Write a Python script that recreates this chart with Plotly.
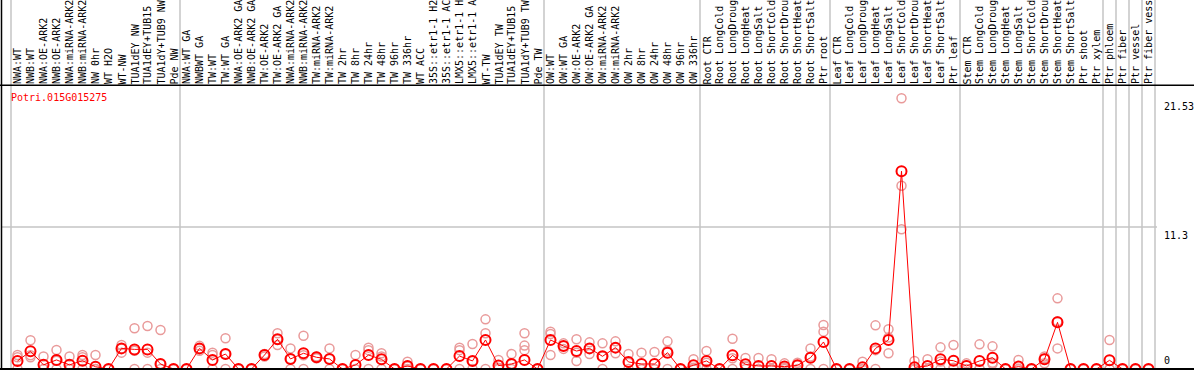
import plotly.graph_objects as go

gene = "Potri.015G015275"

groups = [
    ["NWA:WT", "NWB:WT", "NWA:OE-ARK2", "NWB:OE-ARK2", "NWA:miRNA-ARK2", "NWB:miRNA-ARK2",
     "NW 0hr", "WT H2O", "WT-NW", "TUA1dEY NW", "TUA1dEY+TUB15 NW", "TUA1dY+TUB9 NW", "Pde NW"],
    ["NWA:WT GA", "NWBWT GA", "TW:WT", "TW:WT GA", "NWA:OE-ARK2 GA", "NWB:OE-ARK2 GA",
     "TW:OE-ARK2", "TW:OE-ARK2 GA", "NWA:miRNA-ARK2", "NWB:miRNA-ARK2", "TW:miRNA-ARK2",
     "TW:miRNA-ARK2", "TW 2hr", "TW 8hr", "TW 24hr", "TW 48hr", "TW 96hr", "TW 336hr", "WT ACC",
     "35S::etr1-1 H2O", "35S::etr1-1 ACC", "LMX5::etr1-1 H2O", "LMX5::etr1-1 ACC", "WT-TW",
     "TUA1dEY TW", "TUA1dEY+TUB15 TW", "TUA1dY+TUB9 TW", "Pde TW"],
    ["OW:WT", "OW:WT GA", "OW:OE-ARK2", "OW:OE-ARK2 GA", "OW:miRNA-ARK2", "OW:miRNA-ARK2",
     "OW 2hr", "OW 8hr", "OW 24hr", "OW 48hr", "OW 96hr", "OW 336hr"],
    ["Root CTR", "Root LongCold", "Root LongDrought", "Root LongHeat", "Root LongSalt",
     "Root ShortCold", "Root ShortDrought", "Root ShortHeat", "Root ShortSalt", "Ptr root"],
    ["Leaf CTR", "Leaf LongCold", "Leaf LongDrought", "Leaf LongHeat", "Leaf LongSalt",
     "Leaf ShortCold", "Leaf ShortDrought", "Leaf ShortHeat", "Leaf ShortSalt", "Ptr leaf"],
    ["Stem CTR", "Stem LongCold", "Stem LongDrought", "Stem LongHeat", "Stem LongSalt",
     "Stem ShortCold", "Stem ShortDrought", "Stem ShortHeat", "Stem ShortSalt", "Ptr shoot",
     "Ptr xylem"],
    ["Ptr phloem"],
    ["Ptr fiber"],
    ["Ptr vessel"],
    ["Ptr fiber vessel"],
]

mean_vals = [
    0.64, 1.41, 0.33, 0.72, 0.33, 0.66, 0.18, 0, 1.64, 1.56, 1.56, 0.40, 0,
    0, 1.64, 0.72, 1.19, 0, 0, 1.11, 2.36, 0.80, 1.25, 0.93, 0.80, 0, 0.32, 1.11, 0.77, 0,
    0.24, 0, 0, 0, 1.03, 0.64, 2.31, 0.27, 0.40, 0.72, 0,
    2.31, 1.83, 1.43, 1.64, 1.01, 1.70, 0.56, 0.40, 0.40, 1.30, 0, 0.29,
    0.64, 0, 1.09, 0.37, 0.24, 0.24, 0.19, 0.29, 0.90, 2.15,
    0, 0, 0.13, 1.64, 2.31, 15.73, 0.13, 0.24, 0.77, 0.66,
    0.24, 0.64, 0.90, 0, 0.19, 0, 0.77, 3.71, 0, 0, 0,
    0.69, 0, 0, 0,
]

rep1 = [
    1.11, 2.28, 1.0, 1.51, 1.0, 1.11, 1.11, 0, 1.91, 3.24, 3.42, 3.1, 0,
    0, 1.84, 1.3, 2.44, 0, 0, 1.2, 2.84, 1.64, 2.65, 1.0, 1.64, 0, 1.11, 1.7, 1.25, 0,
    0.58, 0, 0, 0, 1.7, 1.99, 3.95, 0.72, 1.19, 2.84, 0,
    2.97, 2.04, 2.36, 2.12, 2.04, 2.2, 1.19, 1.3, 1.35, 2.2, 0, 0.77,
    1.43, 0, 2.41, 0.88, 0.88, 0.77, 0.45, 0.5, 1.64, 3.5,
    0, 0, 0.58, 3.47, 3.16, 21.53, 0.64, 0.77, 1.72, 1.91,
    0.45, 1.96, 1.8, 0, 0.72, 0, 1.0, 5.62, 0, 0, 0,
    2.31, 0, 0, 0,
]

rep2 = [
    0.93, 1.1, 0, 0.65, 0, 0.93, 0, 0, 1.64, 1.45, 1.3, 0.4, 0,
    0, 1.64, 1.11, 1.19, 0, 0, 1.11, 2.36, 0.8, 1.1, 0.93, 0.8, 0, 0, 1.5, 1.0, 0,
    0.2, 0, 0, 0, 1.5, 0.64, 2.84, 0.1, 0.4, 1.86, 0,
    2.79, 1.83, 1.3, 1.64, 1.0, 1.7, 0.5, 0, 0, 1.46, 0, 0.1,
    0.5, 0, 0.85, 0.2, 0, 0, 0.1, 0.3, 1.0, 2.97,
    0, 0, 0, 1.5, 2.5, 14.58, 0, 0, 0.6, 0.1,
    0.3, 0, 0.5, 0, 0, 0, 0.85, 3.8, 0, 0, 0,
    0, 0, 0, 0,
]

rep3 = [
    0, 0.93, 0, 0, 0, 0, 0, 0, 1.3, 0, 0, 0, 0,
    0, 1.45, 0, 0, 0, 0, 1.0, 1.91, 0, 0, 0.86, 0, 0, 0, 0, 0, 0,
    0, 0, 0, 0, 0, 0, 0, 0, 0, 1.5, 0,
    1.11, 1.6, 0.64, 1.19, 0, 1.25, 0, 0, 0, 0, 0, 0,
    0, 0, 0, 0, 0, 0, 0, 0, 0, 0,
    0, 0, 0, 0, 1.25, 11.11, 0, 0, 0, 0,
    0, 0, 0.4, 0, 0, 0, 0.45, 1.64, 0, 0, 0,
    0, 0, 0, 0,
]

y_ticks = [0, 11.3, 21.53]
y_tick_text = ["0", "11.3", "21.53"]

categories = [c for g in groups for c in g]
n = len(categories)
xs = list(range(n))

W, H = 1194, 370
pitch = 13.0            # px per category
first_center = 17.5     # px
k = 12.573              # px per expression unit
zero_px = 369.0         # pixel row of value 0
label_base_px = 85.3    # separator between labels and plot

x0 = -first_center / pitch
x1 = x0 + W / pitch
y0 = -(H - zero_px) / k
y1 = y0 + H / k

def py(px):
    return 1 - px / H

def px_x(v):
    return (v - x0) / (x1 - x0)

fig = go.Figure()

pink = "#e99a9a"
for rep in (rep3, rep2, rep1):
    fig.add_trace(go.Scatter(
        x=xs, y=rep, mode="markers",
        marker=dict(symbol="circle-open", size=9, color=pink, line=dict(width=1.5, color=pink)),
        hoverinfo="skip", showlegend=False))

fig.add_trace(go.Scatter(
    x=xs, y=mean_vals, mode="lines+markers",
    line=dict(color="#ff0000", width=1),
    marker=dict(symbol="circle-open", size=10, color="#ff0000", line=dict(width=2, color="#ff0000")),
    showlegend=False))

shapes = []
grey = "#c4c4c4"
bounds = [-0.5]
acc = -0.5
for g in groups:
    acc += len(g)
    bounds.append(acc)
for b in bounds:
    shapes.append(dict(type="line", xref="x", yref="paper", x0=b, x1=b, y0=0, y1=1,
                       line=dict(color=grey, width=1.5), layer="below"))

shapes.append(dict(type="line", xref="paper", yref="y", x0=1 / W, x1=px_x(bounds[-1]) + 2 / W,
                   y0=y_ticks[1], y1=y_ticks[1], line=dict(color=grey, width=1.5), layer="below"))
shapes.append(dict(type="line", xref="paper", yref="paper", x0=0, x1=1,
                   y0=py(label_base_px), y1=py(label_base_px),
                   line=dict(color="black", width=1.5)))
shapes.append(dict(type="line", xref="paper", yref="y", x0=0, x1=1, y0=0, y1=0,
                   line=dict(color="black", width=2)))
shapes.append(dict(type="line", xref="paper", yref="paper", x0=1.5 / W, x1=1.5 / W, y0=0, y1=1,
                   line=dict(color="black", width=1.5)))

annotations = []
mono = "DejaVu Sans Mono"
for i, c in enumerate(categories):
    annotations.append(dict(x=i, xref="x", y=py(label_base_px - 0.8), yref="paper",
                            text=c[:14], textangle=-90, showarrow=False,
                            xanchor="center", yanchor="bottom", borderpad=0, borderwidth=0,
                            font=dict(family=mono, size=10, color="black")))

annotations.append(dict(x=9 / W, xref="paper", y=py(97), yref="paper", text=gene,
                        showarrow=False, xanchor="left", yanchor="middle",
                        font=dict(family=mono, size=10, color="#ff0000")))

tick_x = 1162 / W
for v, t in zip(y_ticks, y_tick_text):
    if v == 0:
        annotations.append(dict(x=tick_x, xref="paper", y=v, yref="y", text=t, showarrow=False,
                                xanchor="left", yanchor="bottom", yshift=1,
                                font=dict(family=mono, size=10, color="black")))
    else:
        annotations.append(dict(x=tick_x, xref="paper", y=v, yref="y", text=t, showarrow=False,
                                xanchor="left", yanchor="top", yshift=-1,
                                font=dict(family=mono, size=10, color="black")))

fig.update_layout(
    width=W, height=H,
    margin=dict(l=0, r=0, t=0, b=0),
    paper_bgcolor="white", plot_bgcolor="white",
    xaxis=dict(range=[x0, x1], visible=False, fixedrange=True),
    yaxis=dict(range=[y0, y1], visible=False, fixedrange=True),
    shapes=shapes, annotations=annotations,
    showlegend=False,
)

fig.write_html("out.html", config={"displayModeBar": False},
               post_script="document.body.style.margin='0';document.body.style.overflow='hidden';")
